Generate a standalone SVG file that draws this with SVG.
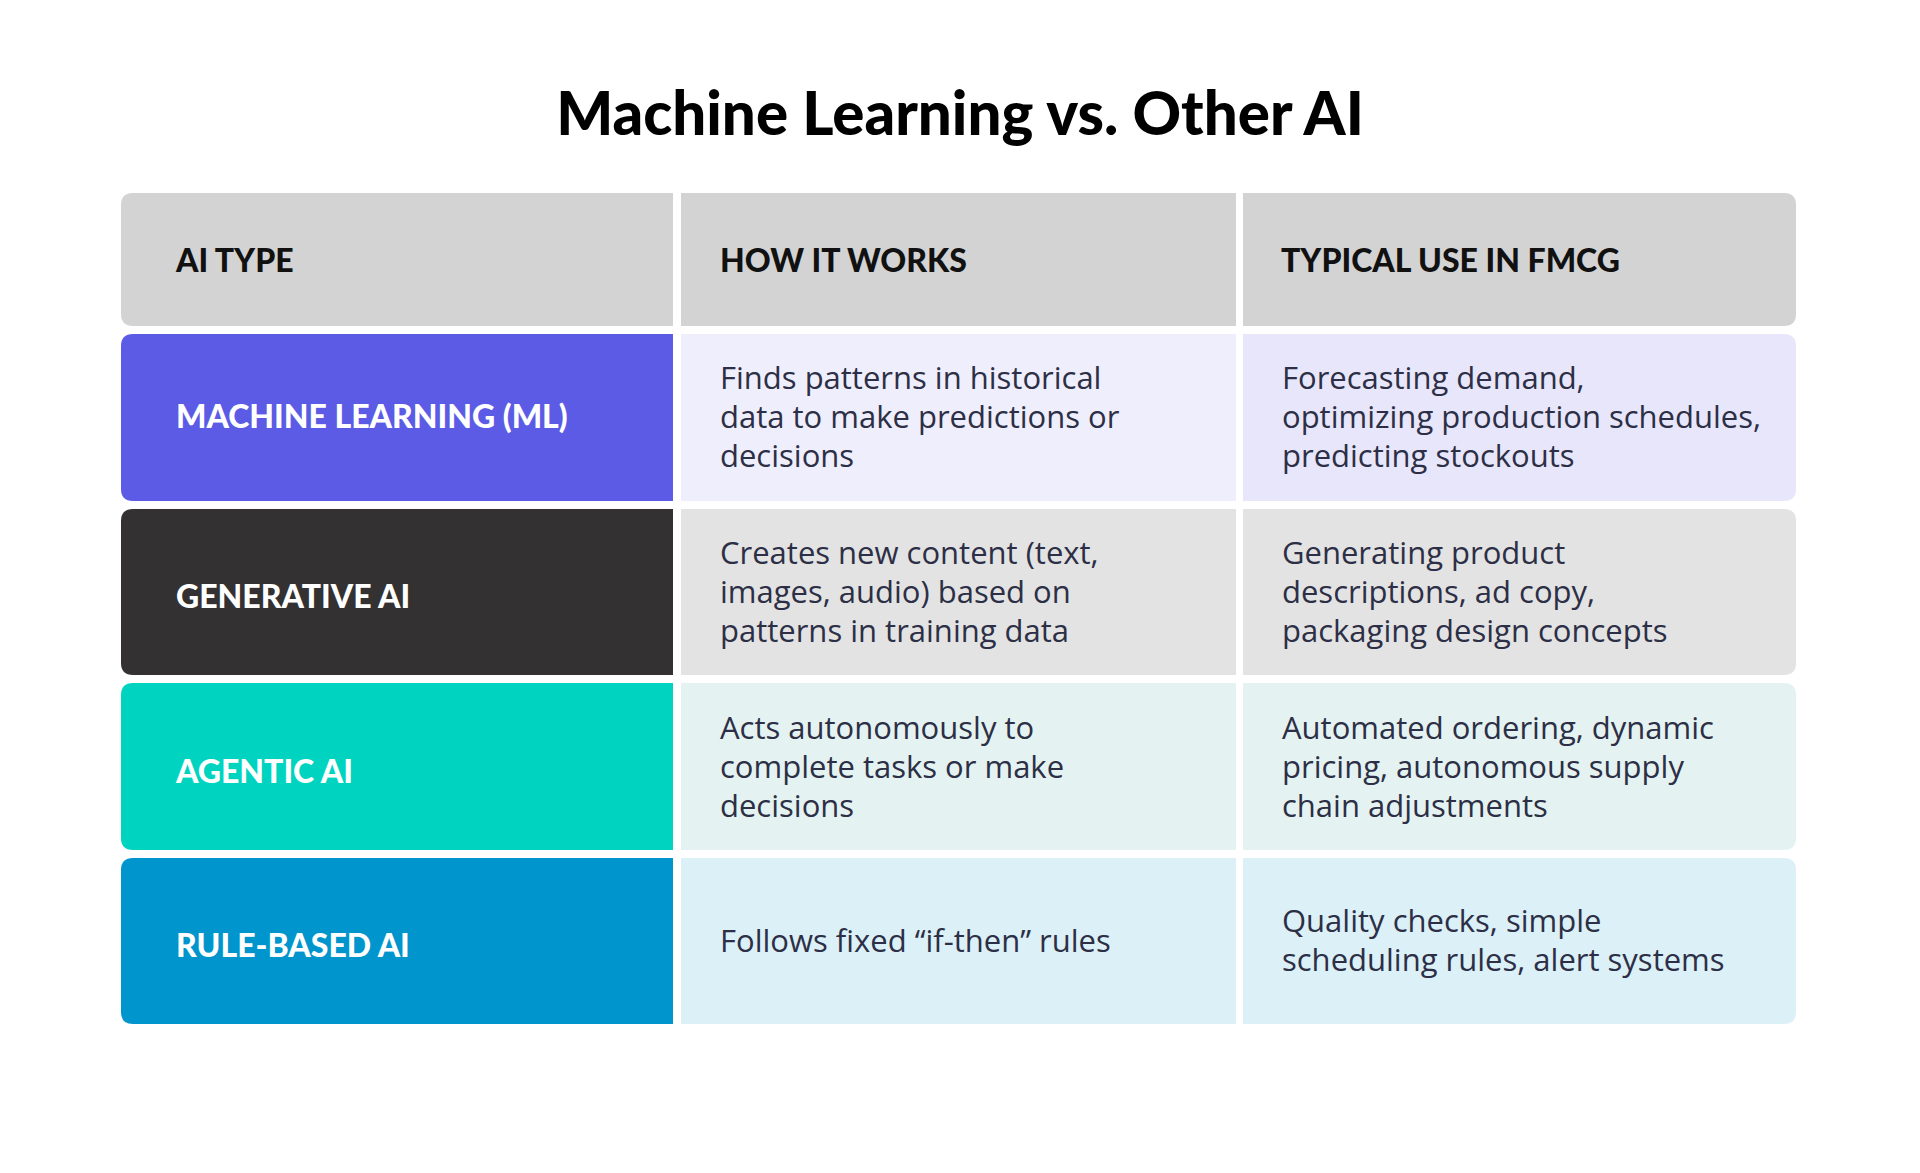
<svg xmlns="http://www.w3.org/2000/svg" width="1920" height="1173" viewBox="0 0 1920 1173">
<style>
.title{font-family:Lato,"Liberation Sans",sans-serif;font-weight:900;font-size:60px;fill:#000}
.hd{font-family:Lato,"Liberation Sans",sans-serif;font-weight:900;font-size:32px;fill:#111}
.lb{font-family:Lato,"Liberation Sans",sans-serif;font-weight:900;font-size:32px;fill:#fff}
.tx{font-family:"Open Sans","Liberation Sans",sans-serif;font-size:31px;fill:#2c2f45}
</style>
<rect width="1920" height="1173" fill="#fff"/>
<text class="title" x="960" y="135" text-anchor="middle">Machine Learning vs. Other AI</text>
<g id="header">
<path d="M133,193 H673 V326 H133 Q121,326 121,314 V205 Q121,193 133,193 Z" fill="#d3d3d3"/>
<rect x="681" y="193" width="555" height="133" fill="#d3d3d3"/>
<path d="M1243,193 H1784 Q1796,193 1796,205 V314 Q1796,326 1784,326 H1243 Z" fill="#d3d3d3"/>
<text class="hd" x="176" y="272">AI TYPE</text>
<text class="hd" x="720" y="272">HOW IT WORKS</text>
<text class="hd" x="1281" y="272">TYPICAL USE IN FMCG</text>
</g>
<g id="row-ml">
<path d="M133,334 H673 V501 H133 Q121,501 121,489 V346 Q121,334 133,334 Z" fill="#5b5be6"/>
<rect x="681" y="334" width="555" height="167" fill="#efeefc"/>
<path d="M1243,334 H1784 Q1796,334 1796,346 V489 Q1796,501 1784,501 H1243 Z" fill="#e8e6fa"/>
<text class="lb" x="176" y="428">MACHINE LEARNING (ML)</text>
<text class="tx" x="720" y="389">Finds patterns in historical</text>
<text class="tx" x="720" y="428">data to make predictions or</text>
<text class="tx" x="720" y="467">decisions</text>
<text class="tx" x="1282" y="389">Forecasting demand,</text>
<text class="tx" x="1282" y="428">optimizing production schedules,</text>
<text class="tx" x="1282" y="467">predicting stockouts</text>
</g>
<g id="row-gen">
<path d="M133,509 H673 V675 H133 Q121,675 121,663 V521 Q121,509 133,509 Z" fill="#333132"/>
<rect x="681" y="509" width="555" height="166" fill="#e3e3e3"/>
<path d="M1243,509 H1784 Q1796,509 1796,521 V663 Q1796,675 1784,675 H1243 Z" fill="#e3e3e3"/>
<text class="lb" x="176" y="608">GENERATIVE AI</text>
<text class="tx" x="720" y="564">Creates new content (text,</text>
<text class="tx" x="720" y="603">images, audio) based on</text>
<text class="tx" x="720" y="642">patterns in training data</text>
<text class="tx" x="1282" y="564">Generating product</text>
<text class="tx" x="1282" y="603">descriptions, ad copy,</text>
<text class="tx" x="1282" y="642">packaging design concepts</text>
</g>
<g id="row-agentic">
<path d="M133,683 H673 V850 H133 Q121,850 121,838 V695 Q121,683 133,683 Z" fill="#00d4c0"/>
<rect x="681" y="683" width="555" height="167" fill="#e4f3f2"/>
<path d="M1243,683 H1784 Q1796,683 1796,695 V838 Q1796,850 1784,850 H1243 Z" fill="#e4f3f2"/>
<text class="lb" x="176" y="783">AGENTIC AI</text>
<text class="tx" x="720" y="739">Acts autonomously to</text>
<text class="tx" x="720" y="778">complete tasks or make</text>
<text class="tx" x="720" y="817">decisions</text>
<text class="tx" x="1282" y="739">Automated ordering, dynamic</text>
<text class="tx" x="1282" y="778">pricing, autonomous supply</text>
<text class="tx" x="1282" y="817">chain adjustments</text>
</g>
<g id="row-rule">
<path d="M133,858 H673 V1024 H133 Q121,1024 121,1012 V870 Q121,858 133,858 Z" fill="#0095cc"/>
<rect x="681" y="858" width="555" height="166" fill="#dcf0f8"/>
<path d="M1243,858 H1784 Q1796,858 1796,870 V1012 Q1796,1024 1784,1024 H1243 Z" fill="#dcf0f8"/>
<text class="lb" x="176" y="957">RULE-BASED AI</text>
<text class="tx" x="720" y="952">Follows fixed “if-then” rules</text>
<text class="tx" x="1282" y="932">Quality checks, simple</text>
<text class="tx" x="1282" y="971">scheduling rules, alert systems</text>
</g>
<g id="connectors"/>
</svg>
